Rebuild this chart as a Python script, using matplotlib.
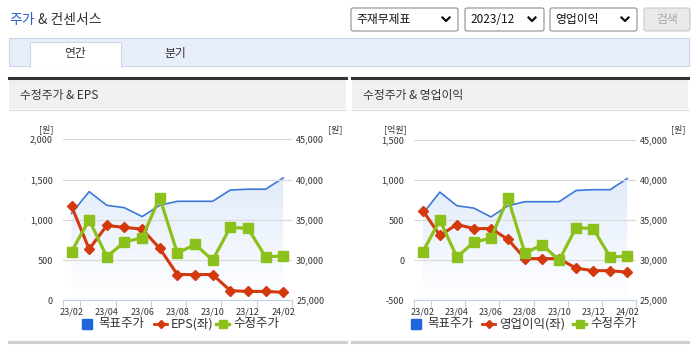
import numpy as np
import matplotlib.pyplot as plt
from matplotlib.patches import Rectangle, FancyBboxPatch
from matplotlib.lines import Line2D
from matplotlib.colors import LinearSegmentedColormap

plt.rcParams['font.family'] = ['Noto Sans CJK KR', 'DejaVu Sans']

months = ['23/02', '23/03', '23/04', '23/05', '23/06', '23/07', '23/08',
          '23/09', '23/10', '23/11', '23/12', '24/01', '24/02']
target_price = [35800, 38500, 36800, 36500, 35400, 36800, 37300, 37300,
                37300, 38700, 38800, 38800, 40200]
adj_price = [31050, 35000, 30400, 32250, 32750, 37750, 30850, 31950,
             30000, 34050, 33950, 30400, 30500]
eps = [1170, 635, 930, 905, 885, 645, 320, 320, 320, 120, 110, 110, 100]
op_income = [620, 310, 445, 395, 395, 260, 20, 20, 20, -100, -130, -130, -150]

W, H = 695, 349
BLUE = '#3d78d8'
RED = '#d4380d'
GREEN = '#8cc11c'
TXT = '#333333'

fig = plt.figure(figsize=(W / 100, H / 100), dpi=100)
fig.patch.set_facecolor('white')

# page chrome drawn in pixel coordinates
bg = fig.add_axes([0, 0, 1, 1])
bg.set_xlim(0, W)
bg.set_ylim(H, 0)
bg.axis('off')

bg.text(9, 20, '주가', color='#2b5fd6', fontsize=10, va='center')
bg.text(38, 20, '& 컨센서스', color=TXT, fontsize=10, va='center')

dropdowns = [(351, 458, '주재무제표'), (465, 544, '2023/12'), (550, 637, '영업이익')]
for x0, x1, label in dropdowns:
    bg.add_patch(FancyBboxPatch((x0, 8), x1 - x0, 23, boxstyle='round,pad=0,rounding_size=2',
                                fc='white', ec='#8f8f8f', lw=0.8))
    bg.text(x0 + 5, 19.5, label, fontsize=8.5, color='#111111', va='center')
    cx = x1 - 12
    bg.add_line(Line2D([cx - 3.5, cx, cx + 3.5], [17.5, 21, 17.5], color='#111111', lw=1.6))
bg.add_patch(FancyBboxPatch((644, 8), 46, 23, boxstyle='round,pad=0,rounding_size=2',
                            fc='#e9e9e9', ec='#c8c8c8', lw=0.8))
bg.text(667, 19.5, '검색', fontsize=8.5, color='#a8a8a8', va='center', ha='center')

# tab bar
bg.add_patch(Rectangle((9, 38), 680, 28, fc='#e8eef9', ec='#c9d6ec', lw=0.8))
bg.add_patch(Rectangle((30, 42), 91, 25, fc='white', ec='#c9d6ec', lw=0.8))
bg.add_patch(Rectangle((30.5, 65.5), 90, 2, fc='white', ec='none'))
bg.text(75.5, 54, '연간', fontsize=8.5, color=TXT, ha='center', va='center')
bg.text(175, 54, '분기', fontsize=8.5, color=TXT, ha='center', va='center')

panels = [(9, 346, '수정주가 & EPS'), (352, 688, '수정주가 & 영업이익')]
for x0, x1, title in panels:
    bg.add_patch(Rectangle((x0, 78), x1 - x0, 31, fc='#f0f0f0', ec='none'))
    bg.add_line(Line2D([x0, x1], [77.5, 77.5], color='#333333', lw=2.2))
    bg.add_line(Line2D([x0, x1], [109.5, 109.5], color='#dadada', lw=0.8))
    bg.add_line(Line2D([x0, x1], [341.5, 341.5], color='#cfcfcf', lw=2.2))
    bg.text(x0 + 11, 95, title, fontsize=8.5, color=TXT, va='center')

grad_cmap = LinearSegmentedColormap.from_list('g', ['#ffffff', '#e0ebfa'])


def draw_legend(x_blue, x_red, x_green, left_name):
    y = 324
    bg.plot([x_blue + 5], [y], marker='s', ms=7.5, color='#1f66dd', ls='none')
    bg.text(x_blue + 16, y, '목표주가', fontsize=9, color=TXT, va='center')
    bg.plot([x_red, x_red + 13], [y, y], color=RED, lw=2)
    bg.plot([x_red + 6.5], [y], marker='D', ms=4.5, color=RED)
    bg.text(x_red + 17, y, left_name, fontsize=9, color=TXT, va='center')
    bg.plot([x_green, x_green + 13], [y, y], color=GREEN, lw=2.4)
    bg.plot([x_green + 6.5], [y], marker='s', ms=5.5, color=GREEN)
    bg.text(x_green + 17, y, '수정주가', fontsize=9, color=TXT, va='center')


def draw_chart(rect, left_vals, left_lim, left_ticks, left_unit, ylab_x):
    ax = fig.add_axes(rect)
    axb = ax.twinx()
    axg = ax.twinx()
    axb.set_zorder(1)
    ax.set_zorder(2)
    axg.set_zorder(3)
    for a in (ax, axb, axg):
        a.patch.set_visible(False)
        for s in a.spines.values():
            s.set_visible(False)
        a.set_xlim(-0.5, 12.5)

    x = np.arange(len(months))

    # target price with gradient area
    axb.set_ylim(25000, 45000)
    axb.set_yticks([25000, 30000, 35000, 40000, 45000])
    axb.set_yticklabels(['25,000', '30,000', '35,000', '40,000', '45,000'])
    axb.tick_params(axis='y', length=0, pad=3, labelsize=6.5, labelcolor=TXT)
    poly = axb.fill_between(x, 25000, target_price, color='none', lw=0)
    img = axb.imshow(np.linspace(0, 1, 256).reshape(-1, 1), cmap=grad_cmap, aspect='auto',
                     origin='lower', extent=(-0.5, 12.5, 25000, max(target_price)), zorder=0)
    img.set_clip_path(poly.get_paths()[0], transform=axb.transData)
    axb.plot(x, target_price, color=BLUE, lw=1.2, zorder=2)
    axb.set_xlim(-0.5, 12.5)

    # left series
    ax.set_ylim(*left_lim)
    ax.set_yticks(left_ticks)
    ax.set_yticklabels([f'{v:,}' for v in left_ticks])
    ax.tick_params(axis='y', length=0, pad=7, labelsize=6.5, labelcolor=TXT)
    ax.grid(axis='y', color='#d9d9d9', lw=0.8)
    ax.set_axisbelow(True)
    ax.plot(x, left_vals, color=RED, lw=2.2, marker='D', ms=5, zorder=3)

    ax.spines['bottom'].set_visible(True)
    ax.spines['bottom'].set_color('#c3d0e2')
    ax.set_xticks(x[::2])
    ax.set_xticklabels(months[::2])
    ax.set_xticks(np.array([-0.5, 0.5, 2.5, 4.5, 6.5, 8.5, 10.5, 12.5]), minor=True)
    ax.tick_params(axis='x', which='major', length=0, pad=5, labelsize=6.5, labelcolor=TXT)
    ax.tick_params(axis='x', which='minor', length=5, color='#c3d0e2', width=0.8)

    # adjusted price
    axg.set_ylim(25000, 45000)
    axg.set_yticks([])
    axg.plot(x, adj_price, color=GREEN, lw=2.3, marker='s', ms=7.5, zorder=3)

    bx1 = (rect[0] + rect[2]) * W
    bg.text(ylab_x, 129, left_unit, fontsize=6.5, color=TXT, ha='center', va='center')
    bg.text(bx1 + 43, 129, '[원]', fontsize=6.5, color=TXT, ha='center', va='center')
    return ax


draw_chart([62.7 / W, 1 - 300.3 / H, 229.3 / W, 161 / H], eps, (0, 2000),
           [0, 500, 1000, 1500, 2000], '[원]', 46)
draw_legend(82, 154, 216, 'EPS(좌)')
draw_chart([414.3 / W, 1 - 300.3 / H, 221.4 / W, 160.3 / H], op_income, (-500, 1500),
           [-500, 0, 500, 1000, 1500], '[억원]', 395)
draw_legend(411, 482, 573, '영업이익(좌)')

fig.savefig('out.png', dpi=100, facecolor='white')
